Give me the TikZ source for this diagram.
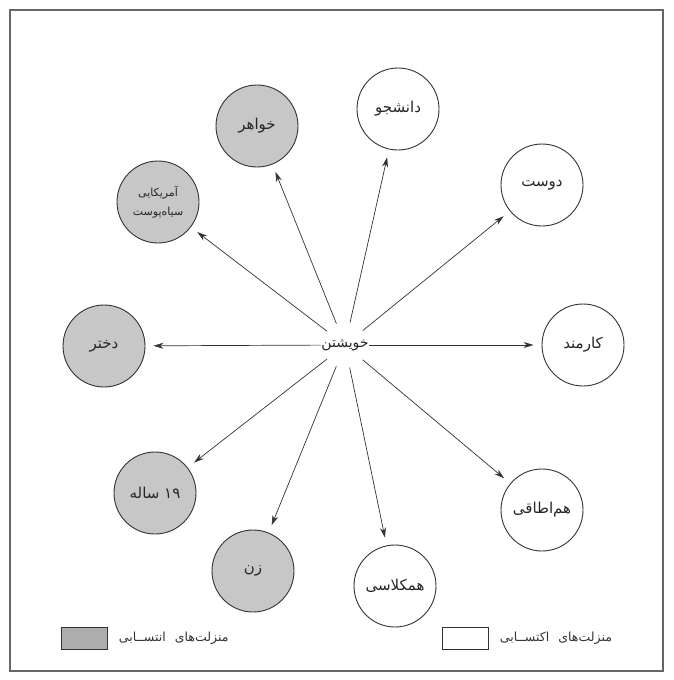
\documentclass[tikz,border=0pt]{standalone}
\usepackage{fontspec}
\usetikzlibrary{arrows.meta}
\newfontfamily\arabicfont[Script=Arabic]{DejaVu Sans}
\TeXXeTstate=1
\begin{document}
\begin{tikzpicture}[x=1pt,y=-1pt,
  stat/.style={circle,draw=black!80,line width=0.9pt,minimum size=82pt,inner sep=0pt,
    font=\arabicfont\fontsize{15}{17}\selectfont,text=black!85},
  ascr/.style={stat,fill=black!22},
  achv/.style={stat,fill=white},
  arr/.style={draw=black!80,line width=0.7pt,-{Stealth[length=10pt,width=6pt]},shorten >=8pt},
  diag/.style={arr,shorten <=23pt},
  legbox/.style={draw=black!80,line width=0.8pt,minimum width=46pt,minimum height=22pt,inner sep=0pt},
  legtext/.style={anchor=west,font=\arabicfont\fontsize{12.5}{14}\selectfont,text=black!80}]
\useasboundingbox (0,0) rectangle (673,680);
\fill[white] (0,0) rectangle (673,680);
\draw[black!60,line width=1.2pt] (10,10) rectangle (663,671);
\coordinate (c) at (345,345);
% ascribed (gray)
\node[ascr,align=center,font=\arabicfont\fontsize{11}{19}\selectfont] (amr) at (158,202) {\beginR آمریکایی\endR\\\beginR سیاه^^^^200cپوست\endR};
\node[ascr] (khah) at (257,126) {\beginR خواهر\endR};
\node[ascr] (zan) at (253,571) {\beginR زن\endR};
\node[ascr] (nuz) at (155,493) {\beginR\beginL ۱۹\endL{} ساله\endR};
\node[ascr] (dokh) at (104,346) {\beginR دختر\endR};
% achieved (white)
\node[achv] (dan) at (398,109) {\beginR دانشجو\endR};
\node[achv] (dust) at (542,185) {\beginR دوست\endR};
\node[achv] (kar) at (583,345) {\beginR کارمند\endR};
\node[achv] (hamot) at (542,510) {\beginR هم^^^^200cاطاقی\endR};
\node[achv] (hamk) at (395,586) {\beginR همکلاسی\endR};
% arrows
\draw[diag] (c) -- (amr);
\draw[diag] (c) -- (khah);
\draw[diag] (c) -- (dan);
\draw[diag] (c) -- (dust);
\draw[arr] (c) -- (kar);
\draw[diag] (c) -- (hamot);
\draw[diag] (c) -- (hamk);
\draw[diag] (c) -- (zan);
\draw[diag] (c) -- (nuz);
\draw[arr] (c) -- (dokh);
\node[fill=white,inner sep=0.5pt,font=\arabicfont\fontsize{14}{16}\selectfont,text=black!85] (self) at (c) {\beginR خویشتن\endR};
% legend
\node[legbox,fill=black!32] (lga) at (84,638) {};
\node[legtext] (lgat) at ([xshift=8pt]lga.east) {\beginR منزلت^^^^200cهای\hspace{9pt}انتســابی\endR};
\node[legbox,fill=white] (lgb) at (465,638) {};
\node[legtext] (lgbt) at ([xshift=8pt]lgb.east) {\beginR منزلت^^^^200cهای\hspace{9pt}اکتســابی\endR};
\end{tikzpicture}
\end{document}
